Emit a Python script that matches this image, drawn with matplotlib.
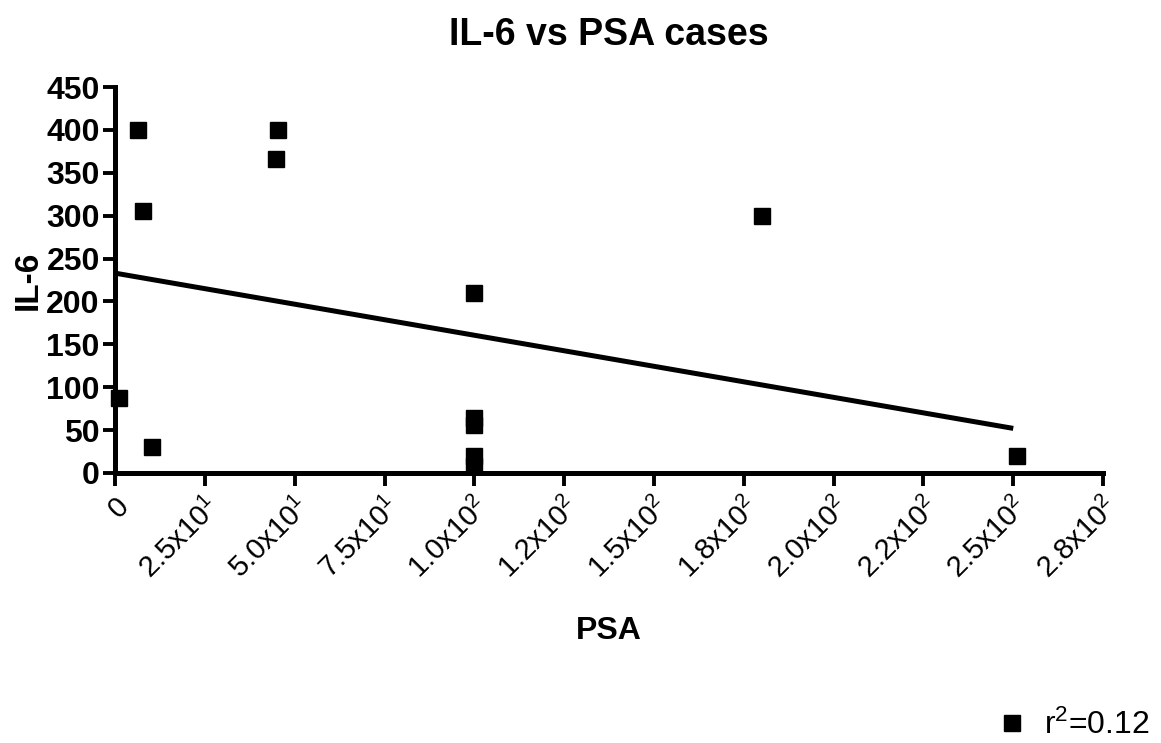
import matplotlib
matplotlib.use("Agg")
import matplotlib.pyplot as plt
import numpy as np

plt.rcParams['font.family'] = ['Liberation Sans', 'DejaVu Sans']
plt.rcParams['mathtext.fontset'] = 'custom'
plt.rcParams['mathtext.rm'] = 'Liberation Sans'
plt.rcParams['mathtext.it'] = 'Liberation Sans'

# data
psa = [6.4, 7.8, 1.0, 10.3, 45.3, 44.7, 100, 100, 100, 100, 100, 180, 251]
il6 = [400, 305, 88, 30, 400, 366, 210, 64, 56, 20, 8, 300, 20]
fit_x = [0, 250]
fit_y = [233, 52]
x_ticks = [0, 25, 50, 75, 100, 125, 150, 175, 200, 225, 250, 275]
x_labels = ["0", "2.5x10$^1$", "5.0x10$^1$", "7.5x10$^1$", "1.0x10$^2$", "1.2x10$^2$",
            "1.5x10$^2$", "1.8x10$^2$", "2.0x10$^2$", "2.2x10$^2$", "2.5x10$^2$", "2.8x10$^2$"]
y_ticks = [0, 50, 100, 150, 200, 250, 300, 350, 400, 450]
r2_label = "r$^2$=0.12"

fig = plt.figure(figsize=(11.61, 7.43), dpi=100)
ax = fig.add_axes([0.0991, 0.3634, 0.851, 0.5195])

ax.plot(fit_x, fit_y, color='black', linewidth=3.6, solid_capstyle='butt')
ax.plot(psa, il6, linestyle='none', marker='s', markersize=12, color='black', clip_on=False, zorder=3)

ax.set_xlim(0, 275)
ax.set_ylim(0, 450)
ax.set_xticks(x_ticks)
ax.set_xticklabels(x_labels, rotation=45, ha='right', rotation_mode='anchor', fontsize=21)
ax.set_yticks(y_ticks)
ax.set_yticklabels([str(v) for v in y_ticks], fontsize=23, fontweight='bold')

for s in ['top', 'right']:
    ax.spines[s].set_visible(False)
for s in ['left', 'bottom']:
    ax.spines[s].set_linewidth(3.6)
ax.tick_params(axis='both', length=9, width=2.8, color='black')
ax.tick_params(axis='x', pad=5)
ax.tick_params(axis='y', pad=2)

ax.set_title("IL-6 vs PSA cases", fontsize=27, fontweight='bold', pad=30)
ax.set_ylabel("IL-6", fontsize=24, fontweight='bold', labelpad=2)
ax.set_xlabel("PSA", fontsize=23, fontweight='bold', labelpad=23)

fig.legend([plt.Line2D([], [], linestyle='none', marker='s', markersize=11, color='black')],
           [r2_label], loc='lower right', bbox_to_anchor=(1.015, -0.036), frameon=False,
           fontsize=23, handletextpad=0.5, handlelength=1.0)

fig.savefig("out.png", dpi=100)
